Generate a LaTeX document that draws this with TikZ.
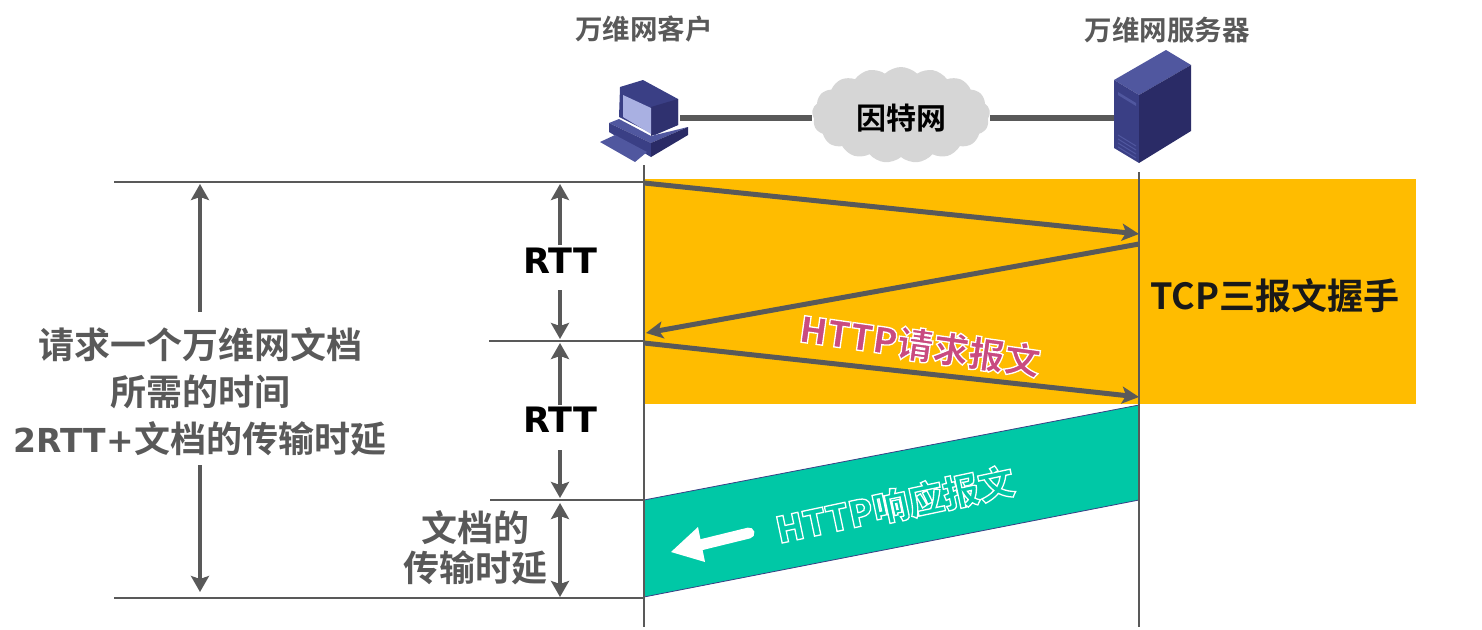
\documentclass[tikz,border=0pt]{standalone}
\usepackage{fontspec}
\usetikzlibrary{arrows.meta,shapes.symbols}
\setmainfont{Noto Sans CJK SC Bold}
\newfontfamily\latinb{DejaVu Sans Bold}
\newfontfamily\heavyf{Noto Sans CJK SC Black}
\newcommand{\halotext}[1]{\special{pdf:code q 2 Tr 1.3 w 1 1 1 RG}#1\special{pdf:code Q}}
\definecolor{inkg}{HTML}{595959}
\definecolor{orangeb}{HTML}{FFBC00}
\definecolor{tealb}{HTML}{00C8A6}
\definecolor{pinkt}{HTML}{C94B80}
\definecolor{navya}{HTML}{3A3F85}
\definecolor{navyb}{HTML}{2A2B66}
\definecolor{navyc}{HTML}{50579F}
\definecolor{screenc}{HTML}{A9B0E2}
\tikzset{
  x=1pt,y=-1pt,
  lbl/.style={inner sep=0pt,text=inkg,align=center},
  msg/.style={draw=inkg,line width=5pt,-{Stealth[length=17pt,width=17pt,inset=4pt]}},
  span/.style={draw=inkg,line width=4.5pt,{Stealth[length=16pt,width=18pt,inset=3pt]}-{Stealth[length=16pt,width=18pt,inset=3pt]}},
  oneway/.style={draw=inkg,line width=4.5pt,-{Stealth[length=16pt,width=18pt,inset=3pt]}},
  rule/.style={draw=inkg,line width=2.8pt},
  life/.style={draw=inkg,line width=2.5pt},
  link/.style={draw=inkg,line width=6pt},
}
\begin{document}
\begin{tikzpicture}
\useasboundingbox (0,0) rectangle (1482,629);
% coloured bands
\fill[orangeb] (644,179) rectangle (1416,404);
\filldraw[fill=tealb,draw=navya,line width=.8pt] (644,500) -- (1139,405) -- (1139,500) -- (644,597) -- cycle;
% coordinates
\coordinate (cTop) at (644,165); \coordinate (cBot) at (644,627);
\coordinate (sTop) at (1139,172); \coordinate (sBot) at (1139,627);
\coordinate (r1a) at (114,182); \coordinate (r1b) at (644,182);
\coordinate (r2a) at (489,341); \coordinate (r2b) at (644,341);
\coordinate (r3a) at (490,500); \coordinate (r3b) at (644,500);
\coordinate (r4a) at (114,598); \coordinate (r4b) at (644,598);
\draw[life] (cTop) -- (cBot);
\draw[life] (sTop) -- (sBot);
\draw[rule] (r1a) -- (r1b);
\draw[rule] (r2a) -- (r2b);
\draw[rule] (r3a) -- (r3b);
\draw[rule] (r4a) -- (r4b);
% messages
\coordinate (m1a) at (644,183); \coordinate (m1b) at (1139,234);
\coordinate (m2a) at (1139,244); \coordinate (m2b) at (646,333);
\coordinate (m3a) at (644,343); \coordinate (m3b) at (1139,397);
\draw[msg] (m1a) -- (m1b);
\draw[msg] (m2a) -- (m2b);
\draw[msg] (m3a) -- (m3b);
% computer
\fill[navya] (620,87) -- (643,80) -- (678,99) -- (678,125) -- (655,135) -- (619,117) -- cycle;
\fill[navyb!70!navya] (651,107) -- (678,99) -- (678,125) -- (651,136) -- cycle;
\fill[screenc] (623,95) -- (651,108) -- (651,134) -- (623,117) -- cycle;
\fill[navyc] (609,123) -- (619,119) -- (651,136) -- (688,127) -- (651,143) -- cycle;
\fill[navya] (609,123) -- (651,143) -- (651,157) -- (609,132) -- cycle;
\fill[navyb] (651,143) -- (688,127) -- (688,135) -- (651,157) -- cycle;
\fill[navyc] (600,142) -- (615,135) -- (647,152) -- (635,162) -- cycle;
% server
\fill[navyc] (1114,80) -- (1166,50) -- (1191,65) -- (1139,95) -- cycle;
\fill[navya] (1114,80) -- (1139,95) -- (1139,163) -- (1114,148) -- cycle;
\fill[navyb] (1139,95) -- (1191,65) -- (1191,131) -- (1139,163) -- cycle;
\draw[navyc,line width=1pt] (1118,135) -- (1136,146) (1118,139) -- (1136,150) (1118,143) -- (1136,154) (1118,147) -- (1136,158);
\fill[navyc] (1118,92) -- (1136,103) -- (1136,106) -- (1118,95) -- cycle;
% top row
\node[cloud,cloud puffs=17,cloud puff arc=90,aspect=1.9,fill=gray!32,draw=none,minimum width=178pt,minimum height=96pt,inner sep=0pt] (cloudn) at (901,115) {};
\node[inner sep=0pt,text=black,font=\fontsize{30}{30}\selectfont] (net) at (901,118) {因特网};
\coordinate (pcPort) at (680,118); \coordinate (srvPort) at (1114,118);
\draw[link] (pcPort) -- (cloudn.west |- pcPort);
\draw[link] (cloudn.east |- srvPort) -- (srvPort);
\node[lbl,font=\fontsize{27.5}{27.5}\selectfont] (client) at (644,29) {万维网客户};
\node[lbl,font=\fontsize{27.5}{27.5}\selectfont] (server) at (1167,30) {万维网服务器};
% left labels
\node[lbl,font=\fontsize{36}{47}\selectfont] (total) at (200,392) {请求一个万维网文档\\所需的时间\\{\latinb\fontsize{33}{47}\selectfont 2RTT+}文档的传输时延};
\coordinate (tTop) at (200,184); \coordinate (tBot) at (200,592);
\coordinate (tUp) at (200,312); \coordinate (tDn) at (200,465);
\draw[oneway] (tUp) -- (tTop);
\draw[oneway] (tDn) -- (tBot);
% RTT
\node[inner sep=0pt,text=black,font=\latinb\fontsize{35}{35}\selectfont] (rtt1) at (560,261) {RTT};
\node[inner sep=0pt,text=black,font=\latinb\fontsize{35}{35}\selectfont] (rtt2) at (560,420) {RTT};
\coordinate (a1) at (560,184); \coordinate (a2) at (560,339);
\coordinate (a3) at (560,343); \coordinate (a4) at (560,498);
\coordinate (a5) at (560,503); \coordinate (a6) at (560,597);
\coordinate (u1) at (560,245); \coordinate (u2) at (560,290);
\coordinate (u3) at (560,405); \coordinate (u4) at (560,450);
\draw[oneway] (u1) -- (a1);
\draw[oneway] (u2) -- (a2);
\draw[oneway] (u3) -- (a3);
\draw[oneway] (u4) -- (a4);
\draw[span] (a5) -- (a6);
\node[lbl,font=\fontsize{36}{40}\selectfont] (doc) at (475,548) {文档的\\传输时延};
\node[inner sep=0pt,text=black!90,font=\fontsize{36}{36}\selectfont] (hand) at (1275,296) {TCP三报文握手};
% band labels
\node[inner sep=0pt,text=pinkt,rotate=-8,font=\heavyf\fontsize{36}{36}\selectfont] (req) at (920,345) {\halotext{HTTP请求报文}};
\node[inner sep=0pt,text=tealb,rotate=12,font=\heavyf\fontsize{36}{36}\selectfont] (resp) at (895,505) {\halotext{HTTP响应报文}};
% white arrow
\coordinate (wTail) at (749,533); \coordinate (wBase) at (700,545);
\draw[white,line width=11pt,line cap=round] (wTail) -- (wBase);
\fill[white] (671,552) -- (698,527) -- (705,562) -- cycle;
\end{tikzpicture}
\end{document}
